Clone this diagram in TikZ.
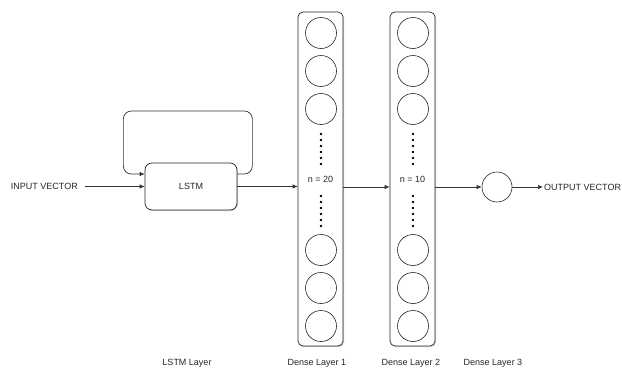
\documentclass[tikz,border=0pt]{standalone}
\usepackage{fontspec}
\setmainfont{Liberation Sans}
\usetikzlibrary{arrows.meta,shadows,calc}
\begin{document}
\begin{tikzpicture}[x=1pt,y=-1pt,
  every node/.style={font=\fontsize{9}{11}\selectfont, text=black!85},
  conn/.style={draw=black!80, line width=0.7pt, -{Latex[length=5pt,width=4.5pt]}},
  plain/.style={draw=black!80, line width=0.7pt},
  layerbox/.style={draw=black!85, fill=white, line width=0.7pt, rounded corners=5pt,
    minimum width=45pt, minimum height=334pt, inner sep=0pt,
    drop shadow={shadow xshift=1pt, shadow yshift=-1.2pt, opacity=0.35, fill=black!50}},
  lstmbox/.style={draw=black!85, fill=white, line width=0.7pt, rounded corners=7pt,
    minimum width=92pt, minimum height=47pt, inner sep=0pt,
    drop shadow={shadow xshift=1pt, shadow yshift=-1.2pt, opacity=0.35, fill=black!50}},
  neuron/.style={circle, draw=black!85, line width=0.6pt, fill=white, minimum size=31pt, inner sep=0pt},
  dotcol/.style={circle, fill=black, minimum size=2.6pt, inner sep=0pt}
]
\useasboundingbox (0,0) rectangle (622,370);
\fill[white] (0,0) rectangle (622,370);

% LSTM
\node[lstmbox] (lstm) at (191,186.5) {LSTM};
\node[anchor=east, inner sep=0pt] (inp) at (78,186.5) {INPUT VECTOR};

% Dense layers
\node[layerbox] (d1) at (320.5,179) {n = 20};
\node[layerbox] (d2) at (412.5,179) {n = 10};

\foreach \L/\X in {d1/321, d2/413}{
  \foreach \i/\Y in {1/33, 2/71, 3/109, 4/250, 5/288, 6/326}{
    \node[neuron] (\L c\i) at (\X,\Y) {};
  }
  \foreach \j/\Y in {1/134, 2/140, 3/146, 4/152, 5/158, 6/164}{
    \node[dotcol] (\L u\j) at (\X,\Y) {};
  }
  \foreach \j/\Y in {1/196, 2/202, 3/208, 4/214, 5/220, 6/226}{
    \node[dotcol] (\L l\j) at (\X,\Y) {};
  }
}

% Output neuron
\node[neuron, minimum size=30pt] (o) at (497,187) {};
\node[anchor=west, inner sep=0pt] (outp) at (544,187) {OUTPUT VECTOR};

% Connectors
\draw[conn] ([xshift=7pt]inp.east) -- (lstm.west);
\draw[conn, rounded corners=8pt] ([yshift=12.5pt]lstm.east) -- ++(15,0) -- ++(0,-63) -- ++(-129,0) -- ++(0,63) -- ([yshift=12.5pt]lstm.west);
\draw[conn] (lstm.east) -- (lstm.east -| d1.west);
\coordinate (m2) at ($(d1.east)+(0,8)$);
\draw[conn] (m2) -- (m2 -| d2.west);
\coordinate (m3) at ($(d2.east)+(0,8)$);
\draw[conn] (m3) -- (o.west);
\draw[conn] (o.east) -- ([xshift=-1pt]outp.west);

% Labels
\node (lab0) at (187,363) {LSTM Layer};
\node (lab1) at (317,363) {Dense Layer 1};
\node (lab2) at (411,363) {Dense Layer 2};
\node (lab3) at (493,363) {Dense Layer 3};
\end{tikzpicture}
\end{document}
